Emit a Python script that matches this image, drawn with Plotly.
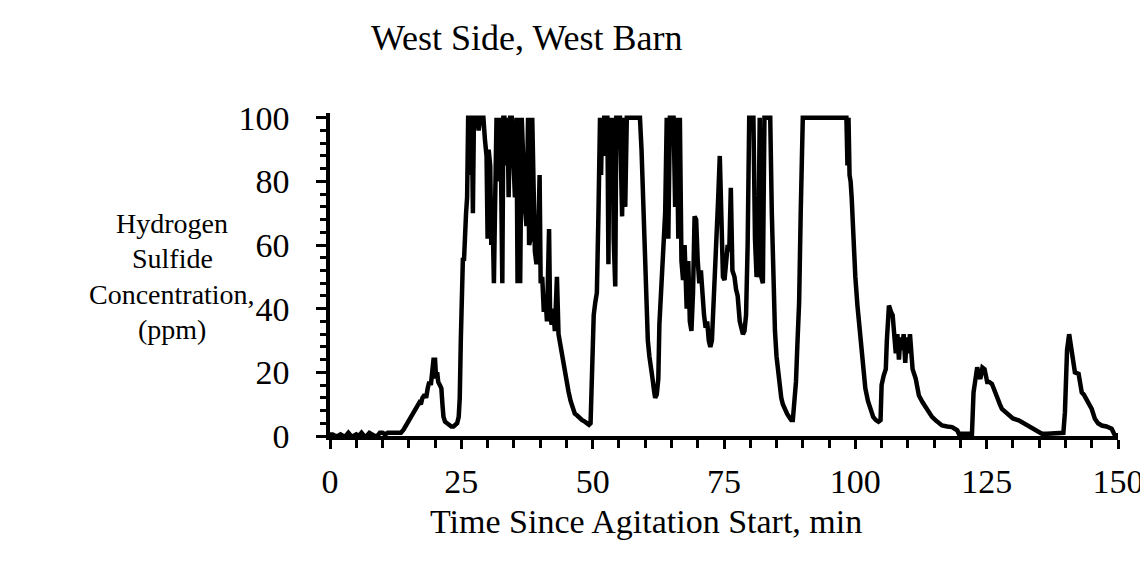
import plotly.graph_objects as go

# Time since agitation start (min) and H2S concentration (ppm)
time_min = [
    0.0, 0.5, 1.0, 1.5, 2.0, 2.5, 3.0, 3.5, 4.0, 4.5, 5.0, 5.5, 6.0, 6.5, 7.0, 7.5,
    8.0, 8.5, 9.0, 9.5, 10.0, 10.5, 11.0, 11.5, 12.0, 12.5, 13.0, 13.5, 14.0, 14.5,
    15.0, 15.5, 16.0, 16.5, 17.0, 17.3, 17.6, 18.0, 18.3, 18.6, 18.9, 19.2, 19.5, 19.7,
    20.0, 20.2, 20.4, 20.6, 20.9, 21.2, 21.4, 21.6, 21.9, 22.3, 22.7, 23.1, 23.5, 23.9,
    24.2, 24.5, 24.7, 24.9, 25.1, 25.3, 25.5, 25.7, 25.9, 26.1, 26.3, 26.6, 26.8, 27.0,
    27.2, 27.4, 27.7, 28.0, 28.3, 28.6, 28.9, 29.2, 29.5, 29.8, 30.0, 30.2, 30.5, 30.7,
    31.0, 31.2, 31.4, 31.7, 32.0, 32.2, 32.5, 32.8, 33.0, 33.2, 33.5, 33.8, 34.0, 34.3,
    34.6, 34.9, 35.2, 35.5, 35.7, 36.0, 36.2, 36.5, 36.8, 37.1, 37.4, 37.7, 37.9, 38.2,
    38.5, 38.8, 39.0, 39.3, 39.6, 39.9, 40.1, 40.4, 40.7, 41.0, 41.3, 41.7, 41.9, 42.2,
    42.5, 42.8, 43.2, 43.5, 43.9, 44.2, 44.6, 45.0, 45.4, 45.8, 46.2, 46.6, 47.0, 47.5,
    48.0, 48.5, 49.0, 49.3, 49.6, 49.9, 50.2, 50.5, 50.8, 51.1, 51.4, 51.6, 51.8, 52.0,
    52.2, 52.5, 52.8, 53.0, 53.2, 53.5, 53.8, 54.0, 54.3, 54.5, 54.8, 55.2, 55.6, 55.9,
    56.2, 56.5, 57.0, 57.5, 58.0, 58.5, 59.0, 59.3, 59.6, 59.9, 60.2, 60.5, 60.8, 61.1,
    61.4, 61.7, 61.9, 62.2, 62.5, 62.7, 63.0, 63.3, 63.6, 63.8, 64.1, 64.4, 64.7, 65.0,
    65.4, 65.7, 66.0, 66.3, 66.6, 66.9, 67.2, 67.5, 67.9, 68.2, 68.5, 68.8, 69.1, 69.4,
    69.7, 70.0, 70.3, 70.6, 70.9, 71.2, 71.5, 71.8, 72.1, 72.4, 72.7, 73.0, 73.3, 73.6,
    73.9, 74.2, 74.5, 74.8, 75.1, 75.4, 75.7, 76.0, 76.3, 76.6, 77.0, 77.3, 77.6, 78.0,
    78.3, 78.6, 78.9, 79.2, 79.5, 79.8, 80.2, 80.6, 80.9, 81.2, 81.5, 81.8, 82.1, 82.4,
    82.7, 83.0, 83.4, 83.8, 84.1, 84.4, 84.7, 85.0, 85.3, 85.6, 85.9, 86.2, 86.6, 87.0,
    87.4, 87.8, 88.1, 88.4, 88.7, 89.0, 89.3, 89.6, 90.0, 91.0, 92.0, 93.0, 94.0, 95.0,
    96.0, 97.0, 98.0, 98.3, 98.5, 98.7, 98.9, 99.1, 99.3, 99.5, 99.7, 100.0, 100.4, 100.8,
    101.2, 101.5, 101.9, 102.4, 102.9, 103.4, 103.9, 104.4, 104.8, 105.0, 105.4, 105.8,
    106.0, 106.2, 106.4, 106.8, 107.1, 107.4, 107.7, 108.0, 108.3, 108.6, 108.9, 109.2,
    109.5, 109.8, 110.1, 110.4, 110.9, 111.5, 112.1, 112.8, 113.4, 114.0, 114.6, 115.3,
    116.0, 116.5, 117.5, 118.4, 119.0, 119.4, 119.7, 120.5, 121.3, 122.2, 122.5, 122.9,
    123.2, 123.5, 123.8, 124.2, 124.6, 125.1, 125.5, 126.0, 126.5, 127.0, 127.5, 127.9,
    128.5, 129.2, 130.0, 131.1, 132.0, 133.0, 133.6, 134.2, 135.5, 136.5, 137.5, 138.5,
    139.3, 139.6, 139.9, 140.3, 140.7, 141.0, 141.2, 141.5, 141.8, 142.5, 143.1, 143.5,
    144.0, 144.5, 145.0, 145.6, 146.2, 146.9, 147.8, 148.8, 149.4, 150.0,
]
h2s_ppm = [
    0.5, 0.5, 0, 0, 0.5, 0, 0, 1, 0, 0, 0.5, 0, 1, 0, 0, 1,
    0.5, 0, 0, 1, 1, 0.5, 1, 1, 1, 1, 1, 1, 2, 3.5,
    5, 6.5, 8, 9, 10.5, 10, 12, 13, 12, 15, 17, 16, 21, 24,
    24, 18, 20, 17, 16, 15, 10, 6, 4.5, 4, 3.5, 3, 3, 3.5,
    4, 6, 12, 30, 52, 56, 55, 66, 70, 75, 100, 100, 82, 100,
    70, 100, 100, 100, 96, 100, 100, 100, 93, 88, 62, 90, 85, 60,
    65, 48, 70, 100, 80, 100, 92, 48, 100, 100, 85, 100, 75, 100,
    100, 90, 75, 100, 48, 100, 48, 100, 80, 72, 66, 100, 60, 62,
    100, 82, 58, 54, 60, 82, 48, 50, 39, 44, 36, 65, 38, 35,
    40, 33, 50, 32, 28, 24, 20, 16, 14, 11, 8.5, 7, 6.5, 5.5,
    5, 4.5, 4, 3.5, 4, 26, 38, 42, 45, 70, 100, 82, 100, 88,
    100, 100, 100, 54, 100, 85, 100, 62, 47, 100, 100, 100, 69, 100,
    72, 100, 100, 100, 100, 100, 100, 90, 74, 55, 40, 30, 25, 20,
    18, 14, 12, 13, 18, 35, 45, 50, 62, 70, 100, 62, 100, 100,
    100, 72, 100, 62, 100, 55, 49, 60, 40, 55, 36, 33, 45, 69,
    68, 55, 48, 52, 44, 38, 34, 36, 30, 28, 30, 40, 52, 62,
    75, 88, 70, 50, 49, 55, 60, 58, 78, 52, 50, 46, 44, 36,
    34, 32, 33, 38, 60, 100, 100, 100, 62, 50, 52, 100, 50, 48,
    100, 100, 100, 100, 70, 45, 33, 25, 20, 15, 12, 10, 8, 7,
    6, 5, 5, 10, 17, 30, 42, 70, 100, 100, 100, 100, 100, 100,
    100, 100, 100, 100, 85, 100, 82, 80, 75, 65, 62, 50, 41, 34,
    28, 20, 15, 11, 8, 6, 5, 4.5, 5, 16, 19, 21,
    30, 35, 41, 39, 38, 32, 26, 32, 24, 31, 27, 32,
    23, 31, 26, 32, 21, 18, 12.7, 10.6, 9, 7.5, 6, 4.9,
    4, 3.3, 3, 2.8, 2.2, 1.8, 0.7, 0.7, 0.7, 0.7, 13.7, 19,
    21.6, 19, 18, 21.5, 21, 17, 17, 16.4, 14, 11.7, 10, 8.5,
    7.5, 6.5, 5.5, 4.9, 4, 3.3, 2.5, 1.8, 0.7, 0.7, 0.7, 0.7,
    0.7, 1, 7.5, 27, 32, 29, 26, 22, 20, 19.5, 13.7, 13,
    11.7, 10, 8.5, 5.4, 4, 3.3, 3, 2.3, 0.2, 0.2,
]

x_ticks = [0, 25, 50, 75, 100, 125, 150]
y_ticks = [0, 20, 40, 60, 80, 100]
y_title_lines = ["Hydrogen", "Sulfide", "Concentration,", "(ppm)"]

FONT = "Liberation Serif"
FS = 34

# plot area in pixels: x 322..1110, y 105..428
L, R, T, B = 322, 38, 105, 133
PW, PH = 1148 - L - R, 561 - T - B


def px_x(px):
    return (px - L) / PW


def px_y(py):
    return (561 - B - py) / PH


fig = go.Figure()
fig.add_trace(go.Scatter(
    x=time_min, y=h2s_ppm, mode="lines",
    line=dict(color="black", width=4.5),
    showlegend=False, hoverinfo="skip",
))

annotations = [
    dict(text="West Side, West Barn", xref="paper", yref="paper",
         x=px_x(519), y=px_y(30), showarrow=False, xanchor="center", yanchor="middle",
         font=dict(family=FONT, size=36)),
    dict(text="Time Since Agitation Start, min", xref="paper", yref="paper",
         x=px_x(638), y=px_y(513), showarrow=False, xanchor="center", yanchor="middle",
         font=dict(family=FONT, size=FS)),
]
for i, line in enumerate(y_title_lines):
    annotations.append(dict(
        text=line, xref="paper", yref="paper",
        x=px_x(164), y=px_y(215 + 35.5 * i), showarrow=False,
        xanchor="center", yanchor="middle", font=dict(family=FONT, size=28)))

fig.update_layout(
    width=1148, height=561,
    margin=dict(l=L, r=R, t=T, b=B),
    paper_bgcolor="white", plot_bgcolor="white",
    font=dict(family=FONT, size=FS, color="black"),
    xaxis=dict(
        range=[0, 150], tickvals=x_ticks, ticktext=[str(v) for v in x_ticks],
        showgrid=False, zeroline=False, showline=True, linecolor="black", linewidth=3.5,
        ticks="outside", ticklen=9, tickwidth=3, tickcolor="black",
        minor=dict(dtick=5, ticks="outside", ticklen=8, tickwidth=3, tickcolor="black", showgrid=False),
        ticklabelstandoff=3, tickfont=dict(family=FONT, size=FS),
    ),
    yaxis=dict(
        range=[0, 101.5], tickvals=y_ticks, ticktext=[str(v) for v in y_ticks],
        showgrid=False, zeroline=False, showline=True, linecolor="black", linewidth=3.5,
        ticks="outside", ticklen=10, tickwidth=3, tickcolor="black",
        minor=dict(dtick=4, ticks="outside", ticklen=6, tickwidth=3, tickcolor="black", showgrid=False),
        ticklabelstandoff=20, tickfont=dict(family=FONT, size=FS),
    ),
    annotations=annotations,
)

fig.write_html("out.html")
